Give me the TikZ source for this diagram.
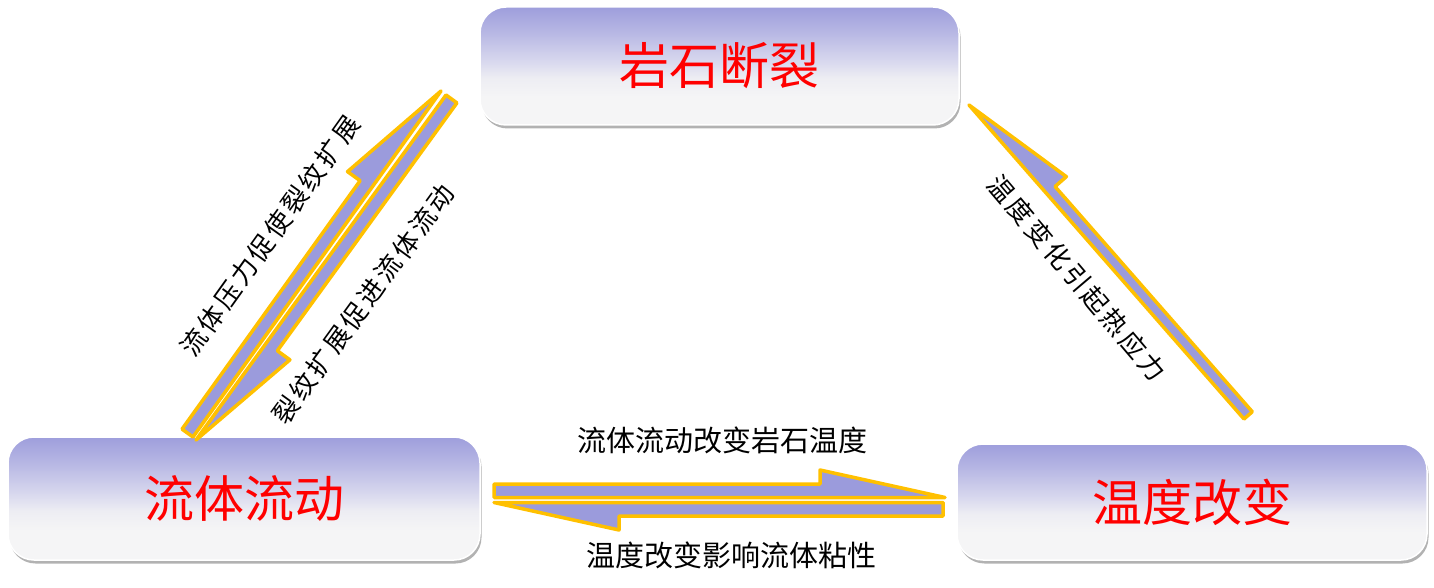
\documentclass[tikz,border=0pt]{standalone}
\usepackage{fontspec}
\newfontfamily\cjk{Noto Sans CJK SC}
\newfontfamily\cjkls[LetterSpace=12]{Noto Sans CJK SC}
\usetikzlibrary{calc,shadows}
\definecolor{harpfill}{HTML}{9B9BDC}
\definecolor{harpline}{HTML}{FFC000}
\definecolor{boxtop}{HTML}{9E9EDC}
\definecolor{boxhi}{HTML}{B8B8E4}
\definecolor{boxmid}{HTML}{D8D8EE}
\definecolor{boxlow}{HTML}{EDEDF3}
\definecolor{boxbot}{HTML}{F5F5F6}
\pgfdeclareverticalshading{boxshade}{100bp}{color(0bp)=(boxbot); color(25bp)=(boxbot); color(37bp)=(boxbot); color(45bp)=(boxlow); color(52bp)=(boxmid); color(64bp)=(boxhi); color(75bp)=(boxtop); color(100bp)=(boxtop)}
\tikzset{
  statebox/.style={shape=rectangle, rounded corners=26pt, shade, shading=boxshade,
    draw=white, line width=1.5pt,
    drop shadow={shadow xshift=1.5pt, shadow yshift=-3.5pt, opacity=0.3, fill=black},
    text=red, font=\cjk\fontsize{50pt}{56pt}\selectfont, inner sep=0pt},
  lab/.style={font=\cjk\fontsize{29pt}{32pt}\selectfont, inner sep=0pt, text=black},
  rlab/.style={font=\cjkls\fontsize{26pt}{30pt}\selectfont, inner sep=0pt, text=black},
  harp/.style={draw=harpline, fill=harpfill, line width=3.5pt, line join=round}
}
% #1 start, #2 tip, #3 shaft width, #4 barb width, #5 head length, #6 side angle (90 or -90)
\newcommand{\harpshape}[6]{%
  \draw[harp] let \p1=(#1), \p2=(#2),
    \n1={atan2((\y2)-(\y1),(\x2)-(\x1))},
    \n2={veclen((\x2)-(\x1),(\y2)-(\y1))} in
    (\p1) -- (\p2)
    -- ($(\p1)+(\n1:{\n2-#5})+({\n1+(#6)}:#4)$)
    -- ($(\p1)+(\n1:{\n2-#5})+({\n1+(#6)}:#3)$)
    -- ($(\p1)+({\n1+(#6)}:#3)$) -- cycle;
}
\begin{document}
\begin{tikzpicture}[x=1pt,y=-1pt]
\useasboundingbox (0,0) rectangle (1434,588);
% boxes
\node[statebox, minimum width=479pt, minimum height=118pt] (rock) at (719.5,66) {岩石断裂};
\node[statebox, minimum width=472pt, minimum height=123pt] (flow) at (244,498.5) {流体流动};
\node[statebox, minimum width=470pt, minimum height=116pt] (temp) at (1192,502) {温度改变};
% arrow end points
\coordinate (hu1) at (494,497.5);
\coordinate (hu2) at (945,497.5);
\coordinate (hl1) at (943,502.5);
\coordinate (hl2) at (494,502.5);
\coordinate (du1) at (193,437);
\coordinate (du2) at (441,91);
\coordinate (dl1) at (446,95);
\coordinate (dl2) at (196,440);
\coordinate (r1) at (1244,419);
\coordinate (r2) at (969,105);
% arrows
\harpshape{hu1}{hu2}{13.5pt}{27.5pt}{125pt}{90}
\harpshape{hl1}{hl2}{13.5pt}{27.5pt}{125pt}{90}
\harpshape{du1}{du2}{13.5pt}{29pt}{120pt}{90}
\harpshape{dl1}{dl2}{13.5pt}{29pt}{120pt}{90}
\harpshape{r1}{r2}{11pt}{26pt}{118pt}{-90}
% labels
\node[lab] (t1) at (722,440) {流体流动改变岩石温度};
\node[lab] (t2) at (731,555) {温度改变影响流体粘性};
\node[rlab, rotate=54.4] (t3) at (270,236) {流体压力促使裂纹扩展};
\node[rlab, rotate=54] (t4) at (363,304) {裂纹扩展促进流体流动};
\node[rlab, rotate=-49.7] (t5) at (1077,278) {温度变化引起热应力};
\end{tikzpicture}
\end{document}
